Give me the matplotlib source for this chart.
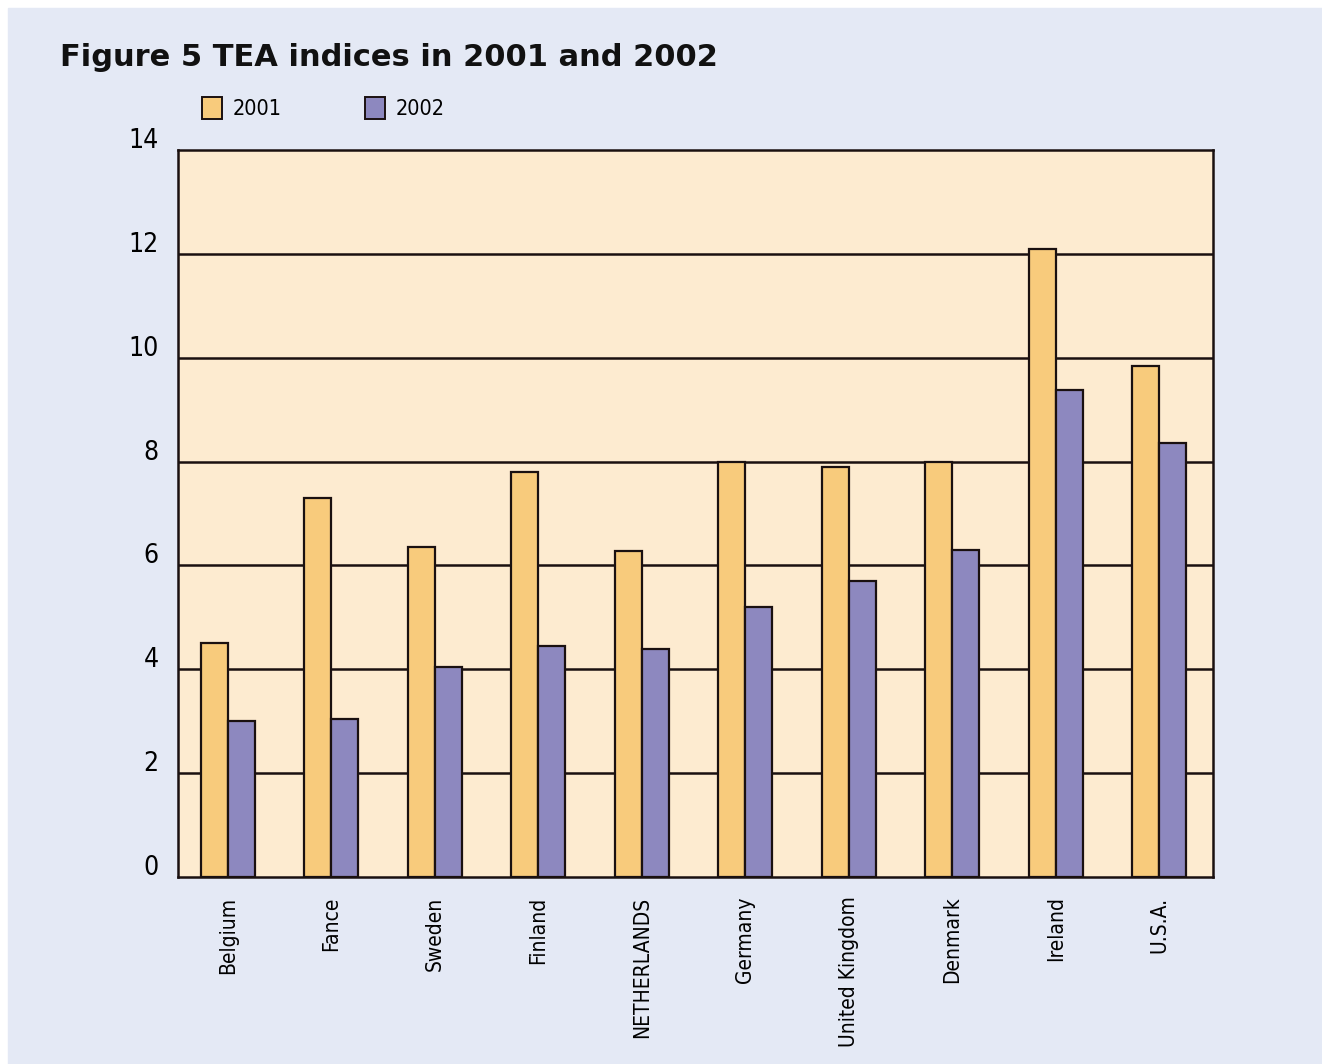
import matplotlib
matplotlib.use("Agg")
import matplotlib.pyplot as plt
import matplotlib.patches as mpatches
import matplotlib.transforms as mtransforms
import numpy as np

countries = ["Belgium", "Fance", "Sweden", "Finland", "NETHERLANDS", "Germany",
             "United Kingdom", "Denmark", "Ireland", "U.S.A."]
tea_2001 = [4.5, 7.3, 6.35, 7.8, 6.28, 8.0, 7.9, 8.0, 12.1, 9.85]
tea_2002 = [3.0, 3.05, 4.05, 4.45, 4.4, 5.2, 5.7, 6.3, 9.38, 8.35]
yticks = [0, 2, 4, 6, 8, 10, 12, 14]

C_2001 = "#F8CB7C"
C_2002 = "#8D88BF"
BG = "#E4E9F5"
FACE = "#FDEBD0"
NARROW = ["Liberation Sans Narrow", "DejaVu Sans"]

fig = plt.figure(figsize=(13.22, 10.64), dpi=100, facecolor="white")
fig.patches.append(mpatches.Rectangle((8 / 1322, 0), 1, 1 - 8 / 1064,
                                      transform=fig.transFigure, color=BG, zorder=-10))

ax = fig.add_axes([178 / 1322, 1 - 877 / 1064, (1213 - 178) / 1322, (877 - 150) / 1064])
ax.set_facecolor(FACE)

x = np.arange(len(countries)) + 0.48
w = 0.26
ax.bar(x - w / 2, tea_2001, w, color=C_2001, edgecolor="#1a1010", linewidth=1.6, zorder=3)
ax.bar(x + w / 2, tea_2002, w, color=C_2002, edgecolor="#1a1010", linewidth=1.6, zorder=3)

ax.set_xlim(0, len(countries))
ax.set_ylim(0, 14)
for v in yticks[1:-1]:
    ax.axhline(v, color="#1a1010", linewidth=1.8, zorder=1)
for s in ax.spines.values():
    s.set_linewidth(1.8)
    s.set_color("#1a1010")

ax.set_yticks(yticks)
ax.set_yticklabels([str(v) for v in yticks], family=NARROW, fontsize=19, stretch="condensed")
ax.tick_params(axis="y", length=0, pad=14)
offset = mtransforms.ScaledTranslation(0, 12 / 100, fig.dpi_scale_trans)
for lbl in ax.get_yticklabels():
    lbl.set_transform(lbl.get_transform() + offset)

ax.set_xticks(x)
ax.set_xticklabels(countries, rotation=90, family=NARROW, fontsize=15, va="top",
                   stretch="condensed")
ax.tick_params(axis="x", length=0, pad=14)

fig.text(60 / 1322, 1 - 57 / 1064, "Figure 5 TEA indices in 2001 and 2002",
         fontsize=22, fontweight="bold", va="center", ha="left", color="#111111")

handles = [mpatches.Patch(facecolor=C_2001, edgecolor="#1a1010", linewidth=1.4, label="2001"),
           mpatches.Patch(facecolor=C_2002, edgecolor="#1a1010", linewidth=1.4, label="2002")]
fig.legend(handles=handles, loc="center left", bbox_to_anchor=(183 / 1322, 1 - 108 / 1064),
           ncol=2, frameon=False, prop={"family": NARROW, "size": 15.5, "stretch": "condensed"},
           handlelength=0.9, handleheight=1.2, handletextpad=0.5, columnspacing=3.9)

fig.savefig("out.png", dpi=100, facecolor=fig.get_facecolor())
